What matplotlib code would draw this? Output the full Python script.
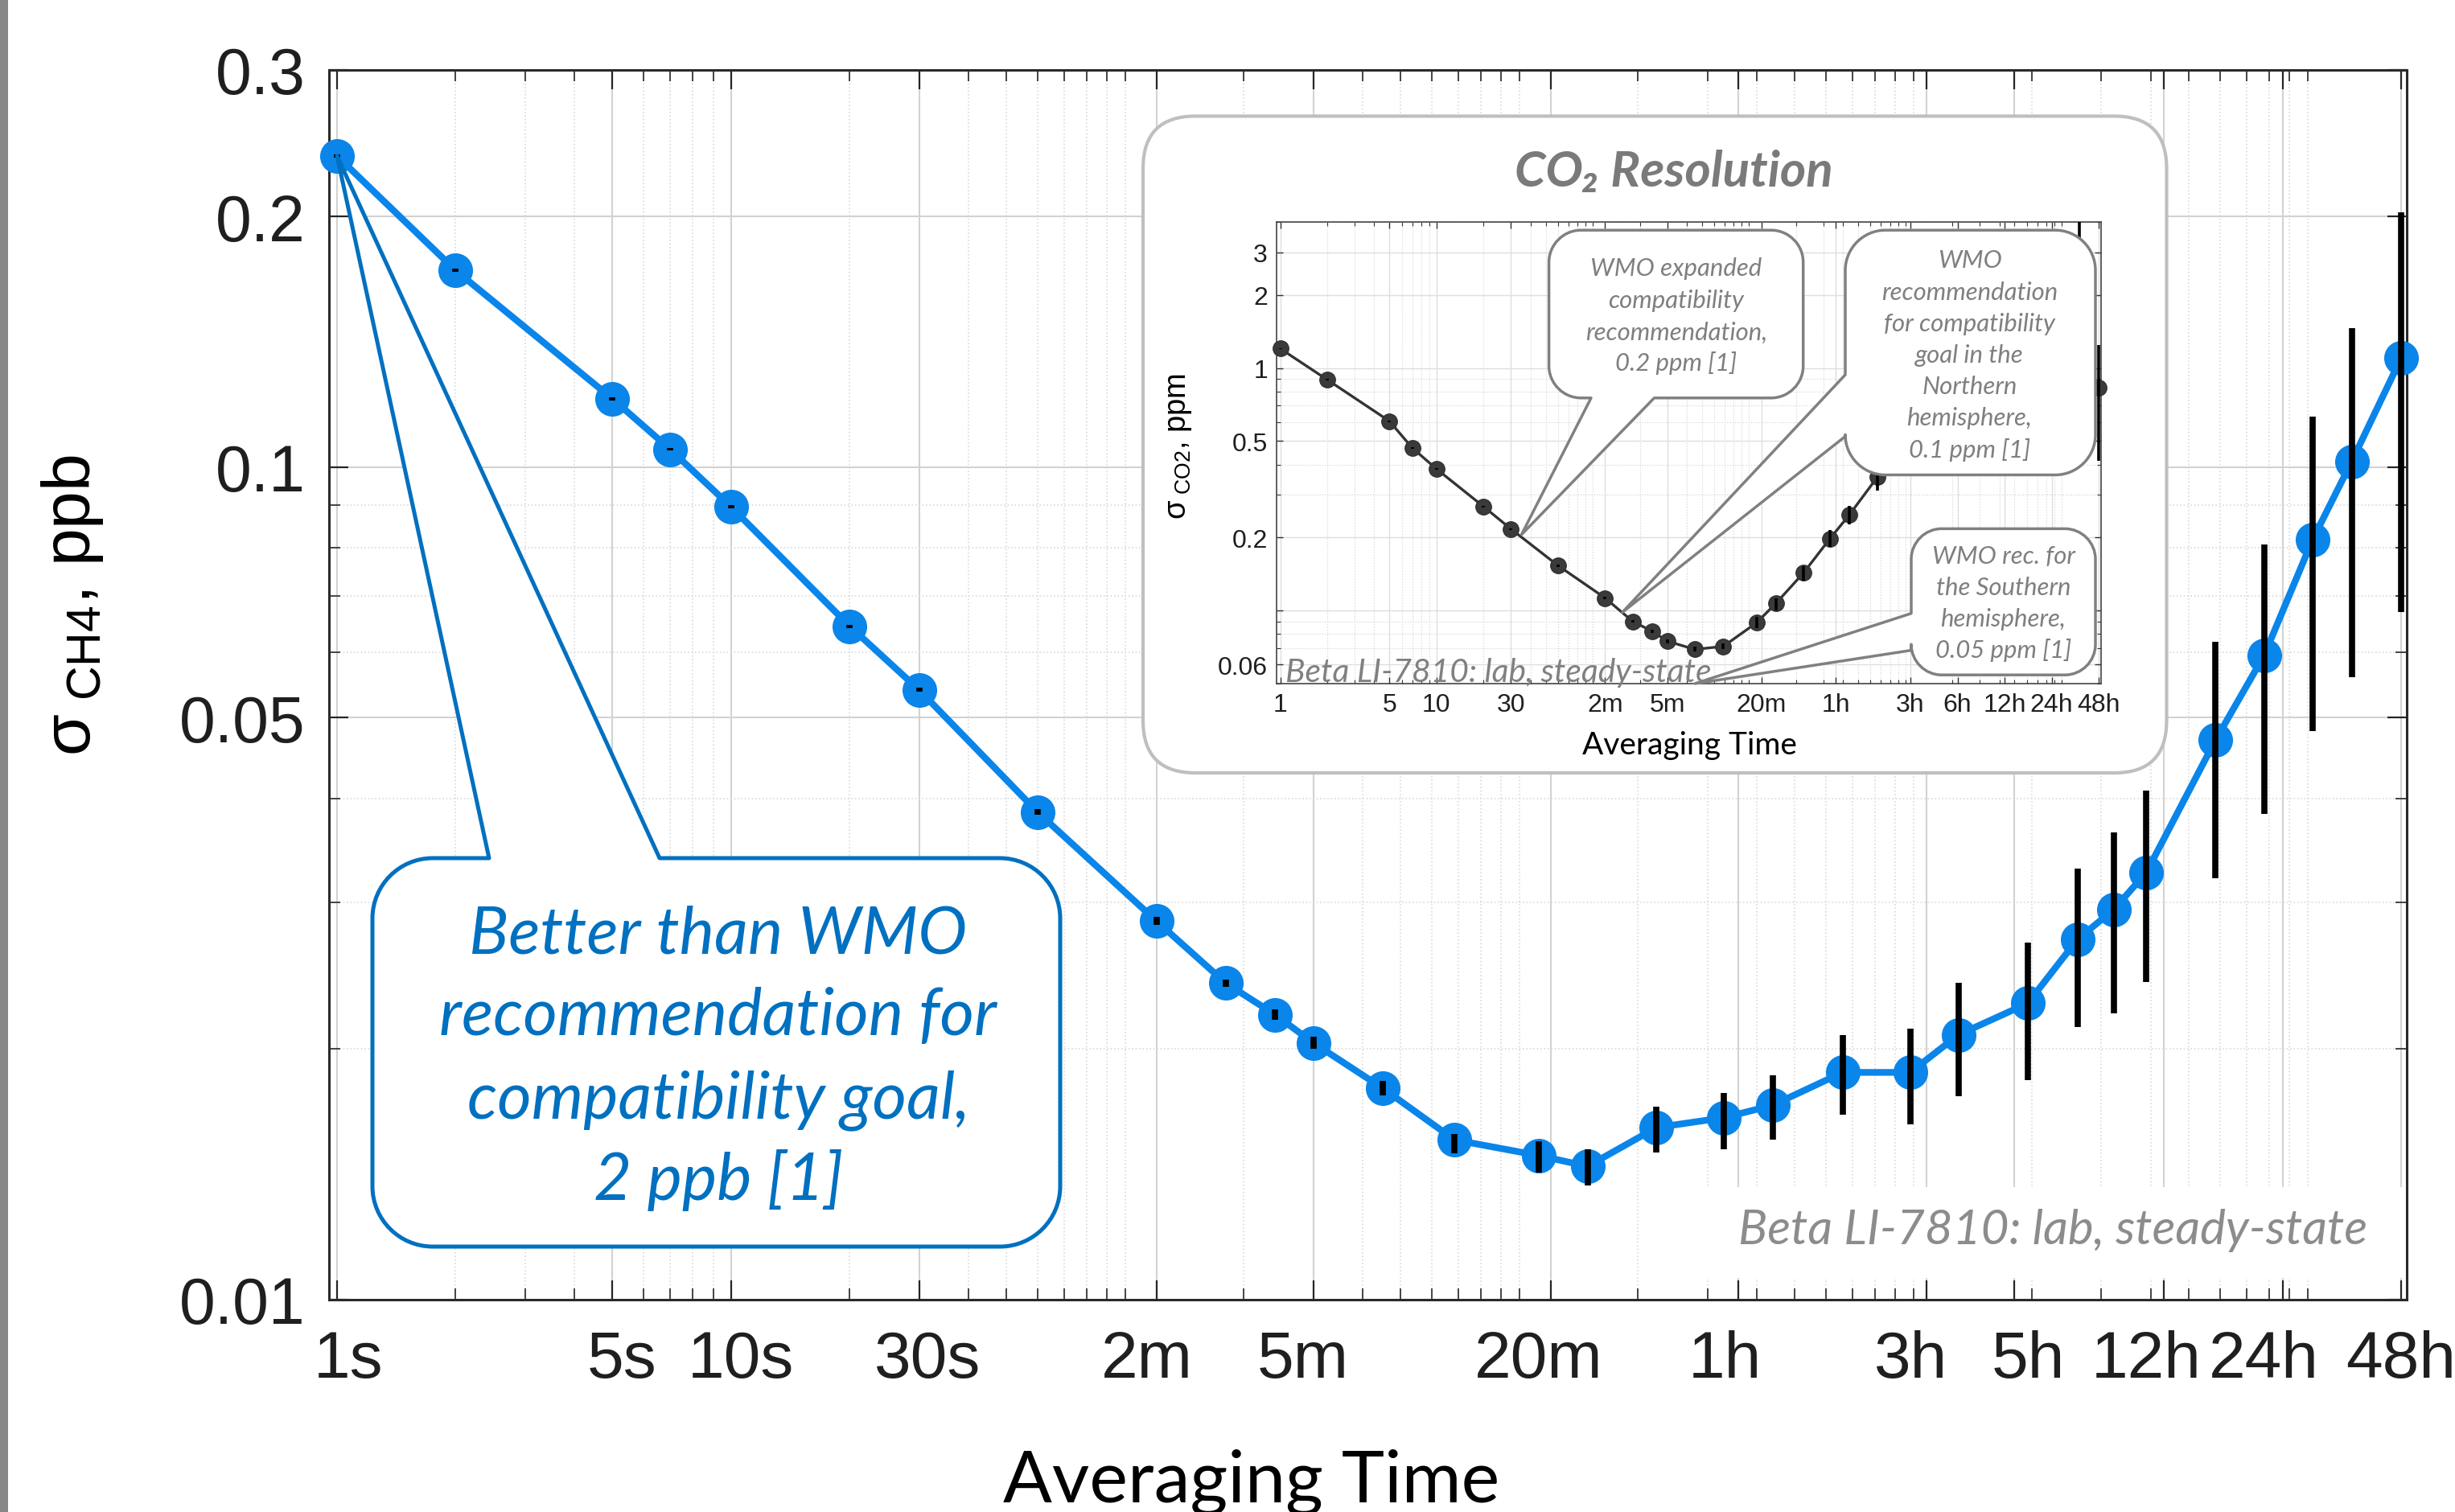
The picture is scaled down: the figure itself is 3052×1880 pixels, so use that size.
import numpy as np
import matplotlib
matplotlib.use('Agg')
import matplotlib.pyplot as plt
from matplotlib.path import Path
from matplotlib.patches import PathPatch, Rectangle, FancyBboxPatch
from matplotlib.ticker import FixedLocator, FixedFormatter, LogLocator, NullFormatter
from matplotlib.transforms import ScaledTranslation

# ---------------- data ----------------
tau_s = [1, 2, 5, 7, 10, 20, 30, 60, 120, 180, 240, 300, 450, 685, 1120, 1490,
         2230, 3300, 4390, 6620, 9820, 13000, 19500, 26100, 32200, 39000,
         58400, 77600, 103000, 129500, 172800]

ch4_ppb = [0.2365, 0.1723, 0.1208, 0.1051, 0.0896, 0.0644, 0.0540, 0.0385, 0.0285,
           0.0240, 0.0220, 0.02035, 0.01795, 0.01556, 0.0149, 0.01446, 0.0161,
           0.01654, 0.01712, 0.01875, 0.01875, 0.0208, 0.0227, 0.0271, 0.0294,
           0.0326, 0.0470, 0.0594, 0.0818, 0.1016, 0.1352]
ch4_lo = [0.2355, 0.1716, 0.1203, 0.1047, 0.0892, 0.0641, 0.0537, 0.0382, 0.0282,
          0.02378, 0.0217, 0.0200, 0.0176, 0.0150, 0.01421, 0.01372, 0.01503,
          0.01516, 0.01556, 0.01668, 0.01625, 0.01757, 0.01835, 0.02126, 0.0221,
          0.0241, 0.03207, 0.0383, 0.0482, 0.0559, 0.0670]
ch4_hi = [0.2375, 0.1730, 0.1213, 0.1055, 0.0900, 0.0647, 0.0543, 0.0388, 0.0288,
          0.02426, 0.0223, 0.0207, 0.0183, 0.0158, 0.01549, 0.01516, 0.01705,
          0.01772, 0.01859, 0.0208, 0.02117, 0.0240, 0.02686, 0.03294, 0.03639,
          0.04089, 0.0617, 0.0807, 0.1151, 0.1468, 0.2023]

co2_ppm = [1.203, 0.895, 0.604, 0.4685, 0.3837, 0.2685, 0.2169, 0.1533, 0.1127,
           0.0903, 0.0822, 0.0748, 0.0692, 0.0712, 0.0892, 0.1073, 0.1429, 0.1982,
           0.2483, 0.3546, 0.48, 0.58, 0.75, 0.95, 1.05, 1.15, 1.4, 1.6, 1.5, 1.3, 0.831]
co2_lo = [1.195, 0.889, 0.600, 0.465, 0.381, 0.266, 0.2150, 0.1518, 0.1114,
          0.0890, 0.0808, 0.0733, 0.0676, 0.0694, 0.0849, 0.1000, 0.1328, 0.1834,
          0.2271, 0.3128, 0.42, 0.50, 0.62, 0.78, 0.85, 0.90, 1.05, 1.15, 1.00, 0.80, 0.414]
co2_hi = [1.211, 0.901, 0.608, 0.472, 0.3865, 0.271, 0.2188, 0.1548, 0.1140,
          0.0916, 0.0836, 0.0763, 0.0708, 0.0730, 0.0942, 0.1124, 0.1528, 0.2157,
          0.2704, 0.40, 0.55, 0.68, 0.90, 1.15, 1.30, 1.45, 1.90, 2.30, 2.40, 5.00, 1.24]

main_xticks = [1, 5, 10, 30, 120, 300, 1200, 3600, 10800, 18000, 43200, 86400, 172800]
main_xlabels = ['1s', '5s', '10s', '30s', '2m', '5m', '20m', '1h', '3h', '5h', '12h', '24h', '48h']
main_yticks = [0.01, 0.05, 0.1, 0.2, 0.3]
main_ylabels = ['0.01', '0.05', '0.1', '0.2', '0.3']
inset_xticks = [1, 5, 10, 30, 120, 300, 1200, 3600, 10800, 21600, 43200, 86400, 172800]
inset_xlabels = ['1', '5', '10', '30', '2m', '5m', '20m', '1h', '3h', '6h', '12h', '24h', '48h']
inset_yticks = [0.06, 0.1, 0.2, 0.5, 1, 2, 3]
inset_ylabels = ['0.06', '', '0.2', '0.5', '1', '2', '3']

main_note = 'Beta LI-7810: lab, steady-state'
callout_main = ['Better than WMO', 'recommendation for', 'compatibility goal,', '2 ppb [1]']
callout_1 = ['WMO expanded', 'compatibility', 'recommendation,', '0.2 ppm [1]']
callout_2 = ['WMO', 'recommendation', 'for compatibility', 'goal in the', 'Northern',
             'hemisphere,', '0.1 ppm [1]']
callout_3 = ['WMO rec. for', 'the Southern', 'hemisphere,', '0.05 ppm [1]']

# horizontal nudges of the main x tick labels (pixels), as placed in the original
main_xlabel_shift = [14, 12, 12, 10, -12, -13, -15, -17, -20, 18, -22, -23, 0]

# ---------------- styling ----------------
W, H, DPI = 3052, 1881, 100
BLUE = '#0A85EA'
CBLUE = '#0070C0'
GRAY_T = '#7f7f7f'
TICKC = '#1f1f1f'

plt.rcParams['mathtext.fontset'] = 'custom'
plt.rcParams['mathtext.rm'] = 'Liberation Sans'
plt.rcParams['mathtext.it'] = 'Liberation Sans:italic'
plt.rcParams['mathtext.bf'] = 'Liberation Sans:bold'

fig = plt.figure(figsize=(W / DPI, H / DPI), dpi=DPI)
fig.patch.set_facecolor('white')
renderer = fig.canvas.get_renderer()


def ax_rect(l, t, r, b):
    return [l / W, (H - b) / H, (r - l) / W, (b - t) / H]


def overlay(z):
    o = fig.add_axes([0, 0, 1, 1], zorder=z)
    o.set_xlim(0, W)
    o.set_ylim(H, 0)
    o.axis('off')
    return o


def fit(t, target, dim='w'):
    for _ in range(3):
        bb = t.get_window_extent(renderer)
        cur = bb.width if dim == 'w' else bb.height
        t.set_fontsize(t.get_fontsize() * target / cur)
    return t.get_fontsize()


def disp(a, x, y):
    dx, dy = a.transData.transform((x, y))
    return dx, H - dy


K = 0.5523


def callout(o, x0, y0, x1, y1, r, side, ga, gb, tip, ec, lw, z=2):
    tx, ty = tip
    V, C = [], []

    def M(p):
        V.append(p); C.append(Path.MOVETO)

    def L(p):
        V.append(p); C.append(Path.LINETO)

    def Cc(p1, p2, p3):
        V.extend([p1, p2, p3]); C.extend([Path.CURVE4] * 3)

    M((x0 + r, y0))
    if side == 'top':
        L((ga, y0)); L((tx, ty)); L((gb, y0))
    L((x1 - r, y0))
    Cc((x1 - r + K * r, y0), (x1, y0 + r - K * r), (x1, y0 + r))
    L((x1, y1 - r))
    Cc((x1, y1 - r + K * r), (x1 - r + K * r, y1), (x1 - r, y1))
    if side == 'bottom':
        L((gb, y1)); L((tx, ty)); L((ga, y1))
    L((x0 + r, y1))
    Cc((x0 + r - K * r, y1), (x0, y1 - r + K * r), (x0, y1 - r))
    if side == 'left':
        L((x0, gb)); L((tx, ty)); L((x0, ga))
    L((x0, y0 + r))
    Cc((x0, y0 + r - K * r), (x0 + r - K * r, y0), (x0 + r, y0))
    V.append((x0 + r, y0)); C.append(Path.CLOSEPOLY)
    o.add_patch(PathPatch(Path(V, C), fc='white', ec=ec, lw=lw,
                          joinstyle='round', zorder=z))


# ---------------- main axes ----------------
ax = fig.add_axes(ax_rect(409, 88, 2992, 1617), zorder=1)
ax.set_xscale('log')
ax.set_yscale('log')
ax.set_xlim(0.9541, 178580)
ax.set_ylim(0.01, 0.3)

ax.plot(tau_s, ch4_ppb, '-o', color=BLUE, lw=6, ms=30, mec=BLUE, mfc=BLUE,
        zorder=3, clip_on=False)
yerr = [np.array(ch4_ppb) - np.array(ch4_lo), np.array(ch4_hi) - np.array(ch4_ppb)]
ax.errorbar(tau_s, ch4_ppb, yerr=yerr, fmt='none', ecolor='black',
            elinewidth=5.5, capsize=0, zorder=4)

ax.xaxis.set_major_locator(FixedLocator(main_xticks))
ax.xaxis.set_major_formatter(FixedFormatter(main_xlabels))
ax.xaxis.set_minor_locator(LogLocator(base=10, subs=np.arange(1, 10), numticks=100))
ax.xaxis.set_minor_formatter(NullFormatter())
ax.yaxis.set_major_locator(FixedLocator(main_yticks))
ax.yaxis.set_major_formatter(FixedFormatter(main_ylabels))
ax.yaxis.set_minor_locator(LogLocator(base=10, subs=np.arange(1, 10), numticks=100))
ax.yaxis.set_minor_formatter(NullFormatter())

ax.set_axisbelow(True)
ax.grid(which='major', ls='-', color='#d2d2d2', lw=1.5)
ax.grid(which='minor', ls=':', color='#dadada', lw=1.2)
ax.tick_params(which='both', direction='in', top=True, right=True, color='#262626')
ax.tick_params(which='major', length=17, width=1.6)
ax.tick_params(which='minor', length=10, width=1.2)
ax.tick_params(axis='x', which='major', pad=27, labelsize=59, labelcolor=TICKC)
ax.tick_params(axis='y', which='major', pad=21, labelsize=58, labelcolor=TICKC)
for lab in ax.get_xticklabels() + ax.get_yticklabels():
    lab.set_fontfamily('Liberation Sans')
for lab, dx in zip(ax.get_xticklabels(), main_xlabel_shift):
    lab.set_transform(lab.get_transform() + ScaledTranslation(dx / DPI, 0, fig.dpi_scale_trans))
for s in ax.spines.values():
    s.set_color('#2a2a2a')
    s.set_linewidth(2.2)

# ---------------- background overlay (inset frame, note) ----------------
ovb = overlay(2)
ovb.add_patch(FancyBboxPatch((1421, 145.4), 1272.5, 816.6,
                             boxstyle='round,pad=0,rounding_size=65',
                             fc='white', ec='#bfbfbf', lw=3.0))
ovb.add_patch(Rectangle((2108, 1477), 2989 - 2108, 1590 - 1477, fc='white', ec='none'))
t = ovb.text(2943, 1547, main_note, ha='right', va='baseline', color='#8c8c8c',
             family='Lato', style='italic', fontsize=40)
fit(t, 782)
t = ovb.text(2081, 232, 'CO\u2082 Resolution', ha='center', va='baseline',
             color='#7a7a7a', family=['Lato', 'DejaVu Sans'], style='italic',
             weight='bold', fontsize=30)
fit(t, 396)
t = ovb.text(1466, 555, r'$\mathrm{\sigma}_{\ \mathrm{CO2}}$, ppm', ha='center',
             va='center', rotation=90, family='Liberation Sans', color='black',
             fontsize=20)
fit(t, 182, 'h')
t = ovb.text(2100, 938, 'Averaging Time', ha='center', va='baseline',
             family='Lato', color='black', fontsize=20)
fit(t, 267)

# ---------------- inset axes ----------------
ai = fig.add_axes(ax_rect(1587, 277, 2611.7, 851), zorder=3)
ai.set_facecolor('white')
ai.set_xscale('log')
ai.set_yscale('log')
ai.set_xlim(0.948, 178420)
ai.set_ylim(0.05, 4.0)
ai.plot(tau_s, co2_ppm, '-o', color='#333333', lw=2.4, ms=14, mec='#333333',
        mfc='#3a3a3a', zorder=3, clip_on=False)
yerr2 = [np.array(co2_ppm) - np.array(co2_lo), np.array(co2_hi) - np.array(co2_ppm)]
ai.errorbar(tau_s, co2_ppm, yerr=yerr2, fmt='none', ecolor='black',
            elinewidth=2.6, capsize=0, zorder=4)
ai.xaxis.set_major_locator(FixedLocator(inset_xticks))
ai.xaxis.set_major_formatter(FixedFormatter(inset_xlabels))
ai.xaxis.set_minor_locator(LogLocator(base=10, subs=np.arange(1, 10), numticks=100))
ai.xaxis.set_minor_formatter(NullFormatter())
ai.yaxis.set_major_locator(FixedLocator(inset_yticks))
ai.yaxis.set_major_formatter(FixedFormatter(inset_ylabels))
ai.yaxis.set_minor_locator(LogLocator(base=10, subs=np.arange(1, 10), numticks=100))
ai.yaxis.set_minor_formatter(NullFormatter())
ai.set_axisbelow(True)
ai.grid(which='major', ls='-', color='#dedede', lw=1.0)
ai.grid(which='minor', ls=':', color='#d6d6d6', lw=0.9)
ai.tick_params(which='both', direction='in', top=True, right=True, color='#333333')
ai.tick_params(which='major', length=6, width=1.0)
ai.tick_params(which='minor', length=3.5, width=0.8)
ai.tick_params(axis='both', which='major', pad=8, labelsize=23, labelcolor=TICKC)
for lab in ai.get_xticklabels() + ai.get_yticklabels():
    lab.set_fontfamily('Liberation Sans')
for s in ai.spines.values():
    s.set_color('#444444')
    s.set_linewidth(1.2)

# ---------------- foreground overlay (callouts, labels) ----------------
ovf = overlay(4)
ovf.add_patch(Rectangle((0, 0), 10, H, fc='#878787', ec='none'))

# main callout
tip_main = disp(ax, tau_s[0], ch4_ppb[0])
callout(ovf, 463, 1068, 1318, 1551, 75, 'top', 608, 820, tip_main, CBLUE, 3.6)
t = ovf.text(893, 1287, callout_main[1], ha='center', va='baseline', color=CBLUE,
             family='Lato', style='italic', fontsize=50, zorder=5)
fs_main = fit(t, 693)
for txt, yb in zip([callout_main[0], callout_main[2], callout_main[3]], [1185, 1390, 1492]):
    ovf.text(893, yb, txt, ha='center', va='baseline', color=CBLUE, family='Lato',
             style='italic', fontsize=fs_main, zorder=5)

# inset callouts
p7 = disp(ai, tau_s[6], co2_ppm[6])
tip1 = (p7[0] + 13, p7[1] + 7)
p9 = disp(ai, tau_s[8], co2_ppm[8])
p10 = disp(ai, tau_s[9], co2_ppm[9])
tip2 = (p9[0] + 0.62 * (p10[0] - p9[0]), p9[1] + 0.62 * (p10[1] - p9[1]))
tip3 = disp(ai, tau_s[12], 0.05)
callout(ovf, 1925.6, 287.2, 2241.7, 495.8, 40, 'bottom', 1978, 2056.5, tip1, '#808080', 2.5)
callout(ovf, 2294, 287.2, 2605, 591.5, 50, 'left', 467, 543.6, tip2, '#808080', 2.5)
callout(ovf, 2376, 658.4, 2605, 840.2, 38, 'left', 763.7, 809.6, tip3, '#808080', 2.5)

t = ovf.text(2448.5, 372.6, callout_2[1], ha='center', va='baseline', color=GRAY_T,
             family='Lato', style='italic', fontsize=20, zorder=5)
fs_c = fit(t, 219)
for txt, yb in zip(callout_1, [342.7, 382.9, 423, 461.4]):
    ovf.text(2084, yb, txt, ha='center', va='baseline', color=GRAY_T, family='Lato',
             style='italic', fontsize=fs_c, zorder=5)
for i, (txt, yb) in enumerate(zip(callout_2, [333, 372.6, 411.6, 450.6, 490, 529, 568.5])):
    if i == 1:
        continue
    ovf.text(2448.5, yb, txt, ha='center', va='baseline', color=GRAY_T, family='Lato',
             style='italic', fontsize=fs_c, zorder=5)
for txt, yb in zip(callout_3, [700.5, 740, 779, 818]):
    ovf.text(2490.5, yb, txt, ha='center', va='baseline', color=GRAY_T, family='Lato',
             style='italic', fontsize=fs_c, zorder=5)

t = ovf.text(1598, 848, main_note, ha='left', va='baseline', color='#808080',
             family='Lato', style='italic', fontsize=30, zorder=5)
fit(t, 531)

# main axis labels
t = ovf.text(1556, 1868, 'Averaging Time', ha='center', va='baseline', family='Lato',
             color='black', fontsize=60)
fit(t, 617)
t = ovf.text(90, 752, r'$\mathrm{\sigma}_{\ \mathrm{CH4}}$, ppb', ha='center',
             va='center', rotation=90, family='Liberation Sans', color='black',
             fontsize=60)
fit(t, 375, 'h')

fig.savefig('out.png', dpi=DPI)
